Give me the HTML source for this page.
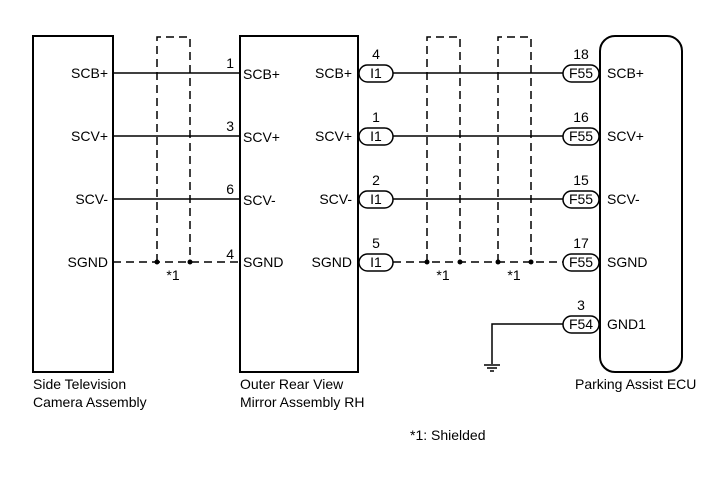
<!DOCTYPE html>
<html><head><style>body{margin:0;background:#fff}svg{display:block}text{font-family:"Liberation Sans",Arial,sans-serif;font-size:14px;fill:#000}</style></head><body>
<svg width="713" height="481" viewBox="0 0 713 481" xmlns="http://www.w3.org/2000/svg">
<g fill="none" stroke="#000" stroke-width="2">
<rect x="33" y="36" width="80" height="336"/>
<rect x="240" y="36" width="118" height="336"/>
<rect x="600" y="36" width="82" height="336" rx="15"/>
</g>
<g stroke="#000" stroke-width="1.5">
<line x1="113" y1="73" x2="240" y2="73"/><line x1="113" y1="136" x2="240" y2="136"/><line x1="113" y1="199" x2="240" y2="199"/>
<line x1="393" y1="73" x2="563" y2="73"/><line x1="393" y1="136" x2="563" y2="136"/><line x1="393" y1="199" x2="563" y2="199"/>
<polyline fill="none" points="563,324 492,324 492,364"/>
<line x1="484" y1="365" x2="500" y2="365"/><line x1="487" y1="368" x2="497" y2="368"/><line x1="490" y1="371" x2="494" y2="371"/>
</g>
<g fill="none" stroke="#000" stroke-width="1.5" stroke-dasharray="8,5">
<polyline points="157,262 157,37 190,37 190,262"/>
<polyline points="427,262 427,37 460,37 460,262"/>
<polyline points="498,262 498,37 531,37 531,262"/>
<line x1="113" y1="262" x2="240" y2="262"/>
<line x1="393" y1="262" x2="563" y2="262"/>
</g>
<g fill="#000"><circle cx="157" cy="262" r="2.5"/><circle cx="190" cy="262" r="2.5"/><circle cx="427" cy="262" r="2.5"/><circle cx="460" cy="262" r="2.5"/><circle cx="498" cy="262" r="2.5"/><circle cx="531" cy="262" r="2.5"/></g>
<g fill="#fff" stroke="#000" stroke-width="1.5">
<rect x="359" y="65" width="34" height="17" rx="8.5"/><rect x="359" y="128" width="34" height="17" rx="8.5"/><rect x="359" y="191" width="34" height="17" rx="8.5"/><rect x="359" y="254" width="34" height="17" rx="8.5"/>
<rect x="563" y="65" width="36" height="17" rx="8.5"/><rect x="563" y="128" width="36" height="17" rx="8.5"/><rect x="563" y="191" width="36" height="17" rx="8.5"/><rect x="563" y="254" width="36" height="17" rx="8.5"/><rect x="563" y="316" width="36" height="17" rx="8.5"/>
</g>
<g text-anchor="middle">
<text x="376" y="78">I1</text><text x="376" y="141">I1</text><text x="376" y="204">I1</text><text x="376" y="267">I1</text>
<text x="581" y="78">F55</text><text x="581" y="141">F55</text><text x="581" y="204">F55</text><text x="581" y="267">F55</text><text x="581" y="329">F54</text>
<text x="376" y="59">4</text><text x="376" y="122">1</text><text x="376" y="185">2</text><text x="376" y="248">5</text>
<text x="581" y="59">18</text><text x="581" y="122">16</text><text x="581" y="185">15</text><text x="581" y="248">17</text><text x="581" y="310">3</text>
<text x="173" y="280">*1</text><text x="443" y="280">*1</text><text x="514" y="280">*1</text>
</g>
<g text-anchor="end">
<text x="108" y="78">SCB+</text><text x="108" y="141">SCV+</text><text x="108" y="204">SCV-</text><text x="108" y="267">SGND</text>
<text x="352" y="78">SCB+</text><text x="352" y="141">SCV+</text><text x="352" y="204">SCV-</text><text x="352" y="267">SGND</text>
<text x="234" y="68">1</text><text x="234" y="131">3</text><text x="234" y="194">6</text><text x="234" y="259">4</text>
</g>
<text x="243" y="79">SCB+</text><text x="243" y="142">SCV+</text><text x="243" y="205">SCV-</text><text x="243" y="267">SGND</text>
<text x="607" y="78">SCB+</text><text x="607" y="141">SCV+</text><text x="607" y="204">SCV-</text><text x="607" y="267">SGND</text><text x="607" y="329">GND1</text>
<text x="33" y="389">Side Television</text><text x="33" y="407">Camera Assembly</text>
<text x="240" y="389">Outer Rear View</text><text x="240" y="407">Mirror Assembly RH</text>
<text x="575" y="389">Parking Assist ECU</text>
<text x="410" y="440">*1: Shielded</text>
</svg>
</body></html>
